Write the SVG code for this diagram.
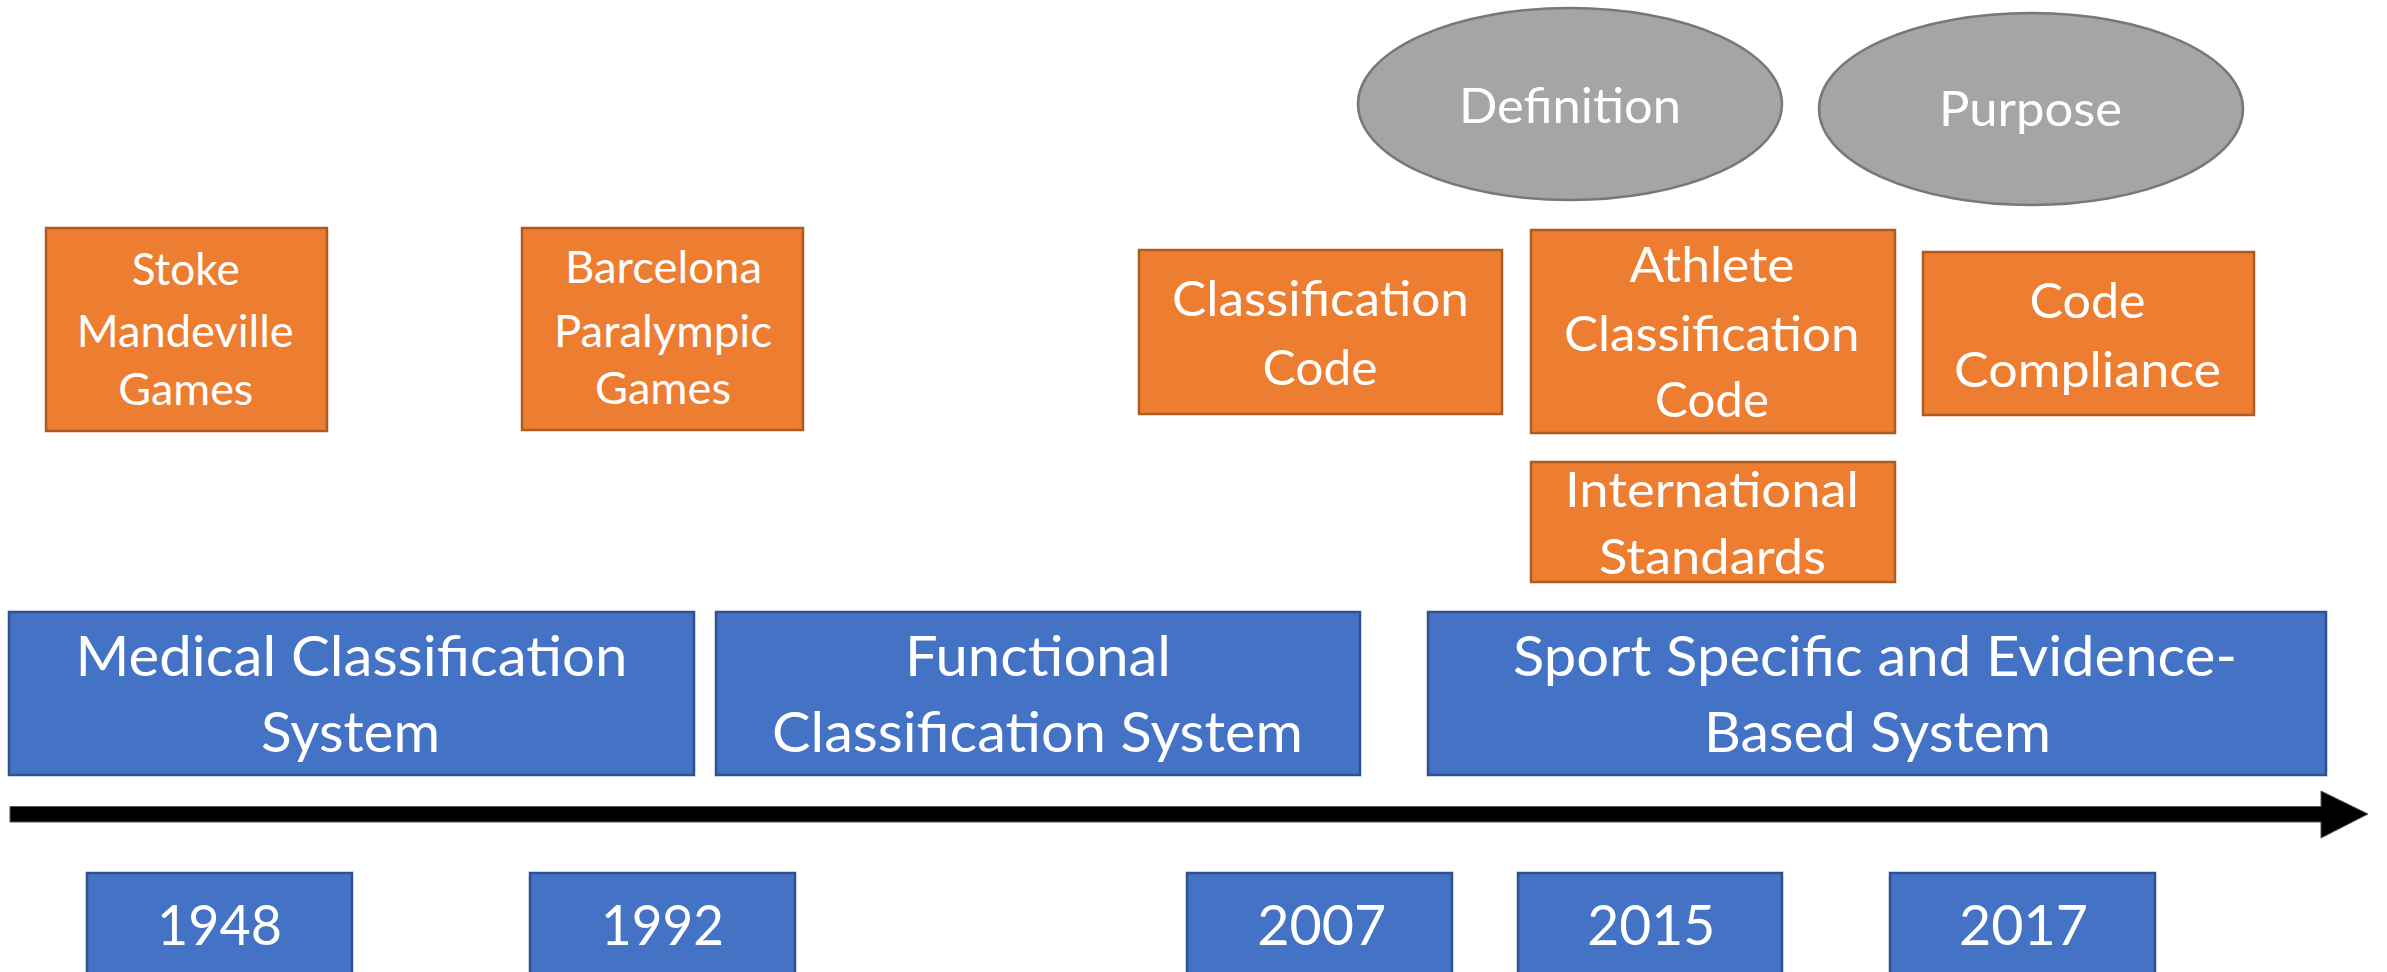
<svg xmlns="http://www.w3.org/2000/svg" width="2387" height="972" viewBox="0 0 2387 972">
<style>
.o{fill:#ED7D31;stroke:#AE5A21;stroke-width:2.5}
.b{fill:#4472C4;stroke:#2F528F;stroke-width:2.5}
.g{fill:#A5A5A5;stroke:#787878;stroke-width:2.5}
text{font-family:Lato,"Liberation Sans",sans-serif;fill:#FFFFFF;text-anchor:middle}
.t57{font-size:57px}
.t56{font-size:56px}
.t49{font-size:49px}
.t44{font-size:44px}
</style>
<rect width="2387" height="972" fill="#FFFFFF"/>
<g id="connectors">
<polygon points="10,806.5 2321,806.5 2321,791 2368,814 2321,838 2321,822 10,822" fill="#000000" stroke="#555555" stroke-width="1"/>
</g>
<g id="n-definition"><ellipse class="g" cx="1570" cy="104" rx="212" ry="96"/><text class="t49" x="1570" y="123" textLength="222" lengthAdjust="spacingAndGlyphs">Definition</text></g>
<g id="n-purpose"><ellipse class="g" cx="2031" cy="109" rx="212" ry="96"/><text class="t49" x="2030.5" y="126" textLength="183" lengthAdjust="spacingAndGlyphs">Purpose</text></g>
<g id="n-stoke"><rect class="o" x="46" y="228" width="281" height="203"/>
<text class="t44" x="185.7" y="285" textLength="108" lengthAdjust="spacingAndGlyphs">Stoke</text>
<text class="t44" x="185.2" y="346.7" textLength="217" lengthAdjust="spacingAndGlyphs">Mandeville</text>
<text class="t44" x="185.8" y="405" textLength="135" lengthAdjust="spacingAndGlyphs">Games</text></g>
<g id="n-barcelona"><rect class="o" x="522" y="228" width="281" height="202"/>
<text class="t44" x="663.5" y="283.3" textLength="197" lengthAdjust="spacingAndGlyphs">Barcelona</text>
<text class="t44" x="663" y="346.7" textLength="218" lengthAdjust="spacingAndGlyphs">Paralympic</text>
<text class="t44" x="663" y="404" textLength="136" lengthAdjust="spacingAndGlyphs">Games</text></g>
<g id="n-classcode"><rect class="o" x="1139" y="250" width="363" height="164"/>
<text class="t49" x="1320.5" y="316" textLength="297" lengthAdjust="spacingAndGlyphs">Classification</text>
<text class="t49" x="1320" y="385" textLength="115" lengthAdjust="spacingAndGlyphs">Code</text></g>
<g id="n-athlete"><rect class="o" x="1531" y="230" width="364" height="203"/>
<text class="t49" x="1712" y="282" textLength="165" lengthAdjust="spacingAndGlyphs">Athlete</text>
<text class="t49" x="1711.7" y="351" textLength="295.5" lengthAdjust="spacingAndGlyphs">Classification</text>
<text class="t49" x="1712" y="417" textLength="114" lengthAdjust="spacingAndGlyphs">Code</text></g>
<g id="n-compliance"><rect class="o" x="1923" y="252" width="331" height="163"/>
<text class="t49" x="2087.5" y="318" textLength="116" lengthAdjust="spacingAndGlyphs">Code</text>
<text class="t49" x="2087.5" y="387" textLength="267" lengthAdjust="spacingAndGlyphs">Compliance</text></g>
<g id="n-international"><rect class="o" x="1531" y="462" width="364" height="120"/>
<text class="t49" x="1712" y="507" textLength="294" lengthAdjust="spacingAndGlyphs">International</text>
<text class="t49" x="1712.4" y="574" textLength="227" lengthAdjust="spacingAndGlyphs">Standards</text></g>
<g id="n-medical"><rect class="b" x="9" y="612" width="685" height="163"/>
<text class="t57" x="351.5" y="676" textLength="552" lengthAdjust="spacingAndGlyphs">Medical Classification</text>
<text class="t57" x="350.5" y="752" textLength="179" lengthAdjust="spacingAndGlyphs">System</text></g>
<g id="n-functional"><rect class="b" x="716" y="612" width="644" height="163"/>
<text class="t57" x="1038" y="676" textLength="266" lengthAdjust="spacingAndGlyphs">Functional</text>
<text class="t57" x="1037.5" y="752" textLength="531" lengthAdjust="spacingAndGlyphs">Classification System</text></g>
<g id="n-sport"><rect class="b" x="1428" y="612" width="898" height="163"/>
<text class="t57" x="1875" y="676" textLength="724" lengthAdjust="spacingAndGlyphs">Sport Specific and Evidence-</text>
<text class="t57" x="1877.5" y="752" textLength="347" lengthAdjust="spacingAndGlyphs">Based System</text></g>
<g id="n-1948"><rect class="b" x="87" y="873" width="265" height="130"/><text class="t56" x="219.5" y="945" textLength="125" lengthAdjust="spacingAndGlyphs">1948</text></g>
<g id="n-1992"><rect class="b" x="530" y="873" width="265" height="130"/><text class="t56" x="662.5" y="945" textLength="123" lengthAdjust="spacingAndGlyphs">1992</text></g>
<g id="n-2007"><rect class="b" x="1187" y="873" width="265" height="130"/><text class="t56" x="1321.8" y="945" textLength="129" lengthAdjust="spacingAndGlyphs">2007</text></g>
<g id="n-2015"><rect class="b" x="1518" y="873" width="264" height="130"/><text class="t56" x="1651.2" y="945" textLength="128" lengthAdjust="spacingAndGlyphs">2015</text></g>
<g id="n-2017"><rect class="b" x="1890" y="873" width="265" height="130"/><text class="t56" x="2023.5" y="945" textLength="129" lengthAdjust="spacingAndGlyphs">2017</text></g>
</svg>
